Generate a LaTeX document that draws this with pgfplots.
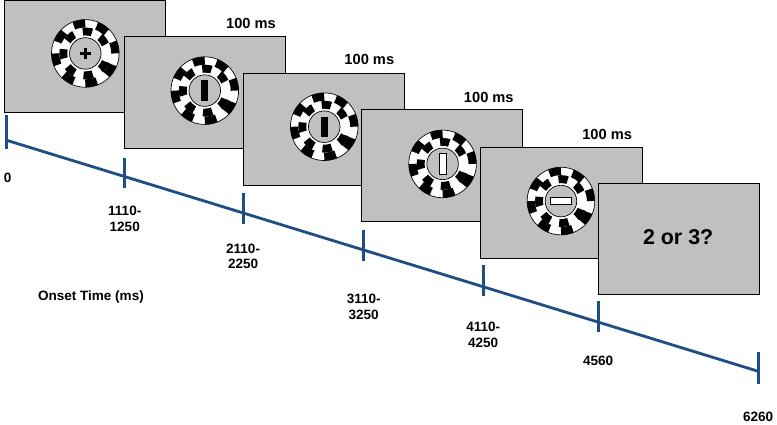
\documentclass[border=0pt]{standalone}
\usepackage{pgfplots}
\pgfplotsset{compat=1.18}
\usepackage{fontspec}
\setmainfont{Liberation Sans}
\definecolor{scr}{HTML}{C0C0C0}
\definecolor{tl}{HTML}{1F4E87}
\newcommand{\stim}[2]{%
 \fill[white] (axis cs:#1,#2) circle[radius=30pt];
 \draw[black,line width=7pt,dash pattern=on 10.4pt off 10.4pt] (axis cs:#1,#2) circle[radius=26.5pt];
 \draw[black,line width=7pt,dash pattern=on 8.2pt off 8.2pt,dash phase=8.2pt] (axis cs:#1,#2) circle[radius=19.5pt];
 \draw[black,line width=0.6pt] (axis cs:#1,#2) circle[radius=30pt];
 \fill[scr] (axis cs:#1,#2) circle[radius=14pt];
 \draw[black,line width=0.6pt] (axis cs:#1,#2) circle[radius=14pt];}
\newcommand{\hms}[2]{\node[font=\bfseries\fontsize{13}{14}\selectfont] at (axis cs:#1,#2) {100 ms};}
\begin{document}
\begin{tikzpicture}
\begin{axis}[width=777pt,height=430pt,scale only axis,axis lines=none,
 xmin=0,xmax=777,ymin=0,ymax=430,y dir=reverse,clip=false]
% screens
\addplot[draw=black,fill=scr,line width=0.8pt] coordinates {(53,28) (196,28) (196,127) (53,127)} -- cycle;
\addplot[draw=black,fill=scr,line width=0.8pt] coordinates {(160,60) (303,60) (303,159) (160,159)} -- cycle;
\addplot[draw=black,fill=scr,line width=0.8pt] coordinates {(265,93) (408,93) (408,192) (265,192)} -- cycle;
\addplot[draw=black,fill=scr,line width=0.8pt] coordinates {(370,125) (513,125) (513,224) (370,224)} -- cycle;
\addplot[draw=black,fill=scr,line width=0.8pt] coordinates {(476,158) (619,158) (619,257) (476,257)} -- cycle;
\addplot[draw=black,fill=scr,line width=0.8pt] coordinates {(580,190) (723,190) (723,289) (580,289)} -- cycle;
% timeline
\addplot[tl,line width=2.5pt] coordinates {(55,152) (722,357)};
\addplot[tl,line width=2.5pt] coordinates {(55,130) (55,160)};
\addplot[tl,line width=2.5pt] coordinates {(160,168) (160,194)};
\addplot[tl,line width=2.5pt] coordinates {(265,199) (265,226)};
\addplot[tl,line width=2.5pt] coordinates {(372,232) (372,259)};
\addplot[tl,line width=2.5pt] coordinates {(478,263) (478,290)};
\addplot[tl,line width=2.5pt] coordinates {(580,295) (580,322)};
\addplot[tl,line width=2.5pt] coordinates {(722,340) (722,368)};
\stim{125}{75}
\stim{231}{108}
\stim{337}{140}
\stim{442}{173}
\stim{547}{206}
\fill[black] (axis cs:125,75) ++(-5pt,-1.5pt) rectangle ++(10pt,3pt);
\fill[black] (axis cs:125,75) ++(-1.5pt,-5pt) rectangle ++(3pt,10pt);
\fill[black] (axis cs:231,108) ++(-3pt,-9pt) rectangle ++(6pt,18pt);
\fill[black] (axis cs:337,140) ++(-3pt,-9pt) rectangle ++(6pt,18pt);
\draw[black,fill=white,line width=0.8pt] (axis cs:442,173) ++(-3pt,-9pt) rectangle ++(6pt,18pt);
\draw[black,fill=white,line width=0.8pt] (axis cs:547,206) ++(-9pt,-3pt) rectangle ++(18pt,6pt);
\hms{272}{48}
\hms{377}{80}
\hms{483}{114}
\hms{588}{147}
\node[font=\bfseries\fontsize{19}{20}\selectfont] at (axis cs:651,238) {2 or 3?};
\node[font=\bfseries\fontsize{12}{14}\selectfont,align=center] at (axis cs:56,185) {0};
\node[font=\bfseries\fontsize{12}{14}\selectfont,align=center] at (axis cs:160,222) {1110-\\1250};
\node[font=\bfseries\fontsize{12}{14}\selectfont,align=center] at (axis cs:265,255) {2110-\\2250};
\node[font=\bfseries\fontsize{12}{14}\selectfont,align=center] at (axis cs:372,300) {3110-\\3250};
\node[font=\bfseries\fontsize{12}{14}\selectfont,align=center] at (axis cs:478,325) {4110-\\4250};
\node[font=\bfseries\fontsize{12}{14}\selectfont,align=center] at (axis cs:580,348) {4560};
\node[font=\bfseries\fontsize{12}{14}\selectfont,align=center] at (axis cs:722,397) {6260};
\node[font=\bfseries\fontsize{12}{14}\selectfont] at (axis cs:130,291) {Onset Time (ms)};
\end{axis}
\end{tikzpicture}
\end{document}
